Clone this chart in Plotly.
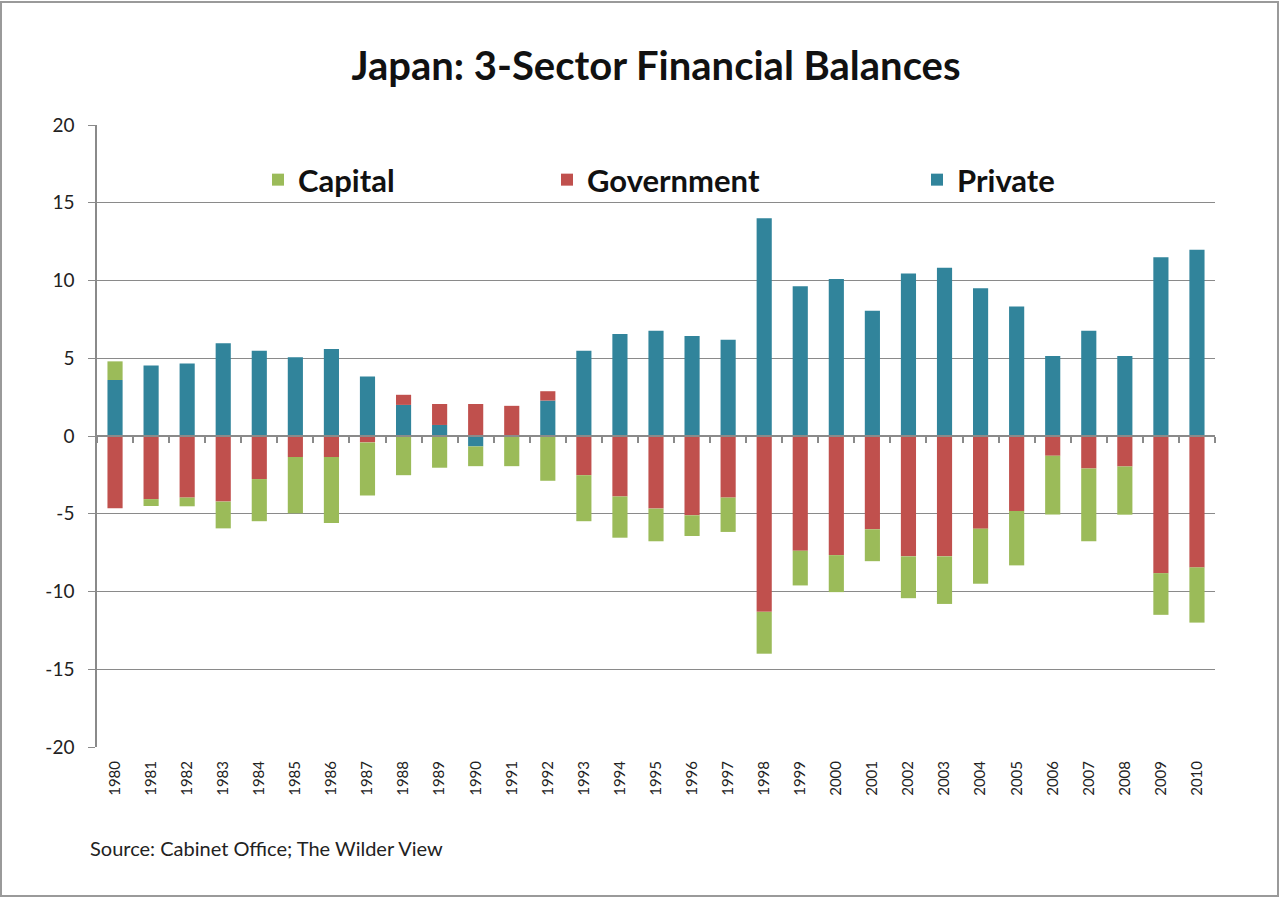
import plotly.graph_objects as go

years = [str(y) for y in range(1980, 2011)]

private = [3.6, 4.54, 4.67, 5.96, 5.48, 5.07, 5.59, 3.83, 2.0, 0.71, -0.67, 0.0, 2.28,
           5.48, 6.56, 6.77, 6.43, 6.19, 14.0, 9.63, 10.09, 8.05, 10.45, 10.82, 9.5,
           8.32, 5.14, 6.77, 5.14, 11.5, 11.98]
government = [-4.65, -4.06, -3.96, -4.22, -2.77, -1.35, -1.35, -0.41, 0.65, 1.35, 2.06, 1.94, 0.6,
              -2.52, -3.89, -4.67, -5.1, -3.96, -11.31, -7.38, -7.66, -6.0, -7.74, -7.74, -5.96,
              -4.82, -1.27, -2.09, -1.96, -8.82, -8.45]
capital = [1.2, -0.44, -0.56, -1.72, -2.71, -3.62, -4.24, -3.42, -2.52, -2.04, -1.27, -1.94, -2.88,
           -2.96, -2.65, -2.1, -1.33, -2.21, -2.69, -2.23, -2.38, -2.05, -2.69, -3.06, -3.54,
           -3.5, -3.78, -4.68, -3.1, -2.68, -3.55]

y_ticks = [-20, -15, -10, -5, 0, 5, 10, 15, 20]
y_tick_text = [str(v) for v in y_ticks]

C_PRIV = "#31849B"
C_GOV = "#C0504D"
C_CAP = "#9BBB59"
GRID = "#8A8A8A"
FONT = "Lato"

fig = go.Figure()
fig.add_trace(go.Bar(x=years, y=private, name="Private", marker=dict(color=C_PRIV, line=dict(width=0)),
                     legend="legend3"))
fig.add_trace(go.Bar(x=years, y=government, name="Government", marker=dict(color=C_GOV, line=dict(width=0)),
                     legend="legend2"))
fig.add_trace(go.Bar(x=years, y=capital, name="Capital", marker=dict(color=C_CAP, line=dict(width=0)),
                     legend="legend"))
# helper (invisible) trace carrying the zero-line axis with tick marks
fig.add_trace(go.Scatter(x=years, y=[0] * len(years), xaxis="x2", mode="markers",
                         marker=dict(opacity=0, size=1), hoverinfo="skip", showlegend=False))

W, H = 1280, 898
L, R, T, B = 97, 1215, 125, 747
pw, ph = R - L, B - T

def px(x):
    return (x - L) / pw

def py(y):
    return (B - y) / ph

x_range = [-0.5, len(years) - 0.5]

legend_common = dict(orientation="h", yanchor="middle", xanchor="left", bgcolor="rgba(0,0,0,0)",
                     font=dict(family=FONT, size=31, color="#111111", weight="bold"),
                     itemsizing="constant")

fig.update_layout(
    width=W, height=H,
    margin=dict(l=L, r=W - R, t=T, b=H - B),
    paper_bgcolor="white", plot_bgcolor="white",
    barmode="relative", bargap=0.58,
    title=dict(text="<b>Japan: 3-Sector Financial Balances</b>", x=0.5, xref="paper", xanchor="center",
               y=1 - 66 / H, yanchor="middle",
               font=dict(family=FONT, size=40, color="#111111")),
    legend=dict(x=px(258), y=py(180), **legend_common),
    legend2=dict(x=px(547), y=py(180), **legend_common),
    legend3=dict(x=px(917), y=py(180), **legend_common),
    xaxis=dict(type="category", categoryorder="array", categoryarray=years, range=x_range,
               showgrid=False, showline=False, ticks="", tickangle=-90,
               tickfont=dict(family=FONT, size=15, color="#222222"), ticklabelstandoff=10),
    xaxis2=dict(type="category", categoryorder="array", categoryarray=years, range=x_range,
                overlaying="x", anchor="free", position=0.5, side="bottom",
                showline=True, linecolor=GRID, linewidth=1.5, ticks="outside", tickson="boundaries",
                ticklen=6, tickcolor=GRID, tickwidth=1.5, showticklabels=False, showgrid=False),
    yaxis=dict(range=[-20, 20], tickvals=y_ticks, ticktext=y_tick_text, showgrid=True,
               gridcolor=GRID, gridwidth=1.2,
               zeroline=False, showline=True, linecolor=GRID, linewidth=1.5,
               ticks="outside", ticklen=7, tickcolor=GRID, ticklabelstandoff=10,
               tickfont=dict(family=FONT, size=19, color="#222222")),
    font=dict(family=FONT),
    showlegend=True,
)

fig.add_annotation(text="Source: Cabinet Office; The Wilder View", xref="paper", yref="paper",
                   x=px(88), y=py(848), xanchor="left", yanchor="middle", showarrow=False,
                   font=dict(family=FONT, size=20, color="#222222"))

fig.add_shape(type="rect", xref="paper", yref="paper",
              x0=px(1), x1=px(1278), y0=py(896), y1=py(2),
              line=dict(color="#9A9A9A", width=2), fillcolor="rgba(0,0,0,0)", layer="below")

fig.write_html("out.html", config={"displayModeBar": False},
               post_script="document.body.style.margin='0';document.body.style.overflow='hidden';")
